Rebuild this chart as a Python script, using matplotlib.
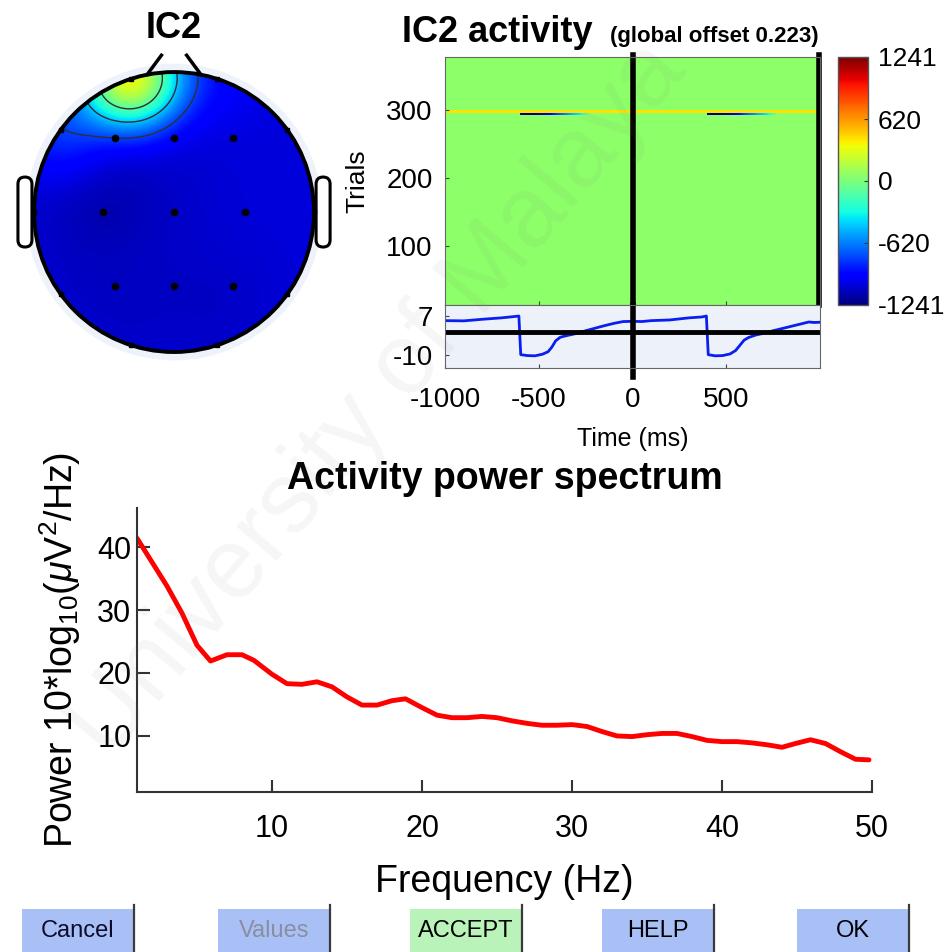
import numpy as np
import matplotlib
matplotlib.use('Agg')
import matplotlib.pyplot as plt
from matplotlib.patches import Circle, FancyBboxPatch, Rectangle

plt.rcParams['font.family'] = ['Liberation Sans', 'DejaVu Sans']
plt.rcParams['mathtext.fontset'] = 'custom'
plt.rcParams['mathtext.rm'] = 'Liberation Sans'
plt.rcParams['mathtext.it'] = 'Liberation Sans:italic'

# ---------------- data ----------------
topo_title = 'IC2'
# channel positions (normalised head units) and component map values
chan_x = [-0.42, 0.0, 0.42, -0.51, 0.0, 0.51, -0.42, 0.0, 0.42]
chan_y = [0.53, 0.53, 0.53, 0.0, 0.0, 0.0, -0.53, -0.53, -0.53]
chan_val = [-0.90, -0.86, -0.84, -0.90, -0.86, -0.84, -0.86, -0.86, -0.86]
rim_angles_deg = [0, 36, 72, 108, 144, 180, 216, 252, 288, 324]
rim_val = [-0.84, -0.84, -0.78, 0.26, -0.66, -0.86, -0.86, -0.86, -0.86, -0.84]
topo_base = -0.84
topo_levels = [-0.62, -0.36, -0.10]

erp_title = 'IC2 activity'
erp_subtitle = '(global offset 0.223)'
trial_range = [13, 378]
time_range = [-1000, 1000]
erp_background = 50
stripe_trials = [296, 297, 298, 299]
stripe_value = 420
dark_trials = [293, 294, 295]
dark_onsets = [-604, 396]
dark_offsets = [0, 70, 140, 220, 330, 380]
dark_values = [-1241, -1241, -1050, -700, -330, 50]
trial_ticks = [100, 200, 300]
time_ticks = [-1000, -500, 0, 500]
cbar_ticks = [-1241, -620, 0, 620, 1241]

trace_t = [-1000, -900, -800, -700, -640, -606, -596, -560, -520, -480, -450, -430,
           -410, -385, -350, -300, -250, -200, -150, -100, -50, 0,
           50, 100, 200, 300, 370, 394, 404, 440, 480, 520, 550, 575, 595, 620,
           660, 700, 750, 800, 850, 900, 940, 970, 1000]
trace_v = [5.0, 4.9, 5.6, 6.2, 6.7, 7.0, -9.8, -10.2, -10.3, -9.6, -8.5, -6.5,
           -3.8, -2.2, -1.5, -0.6, 0.6, 1.7, 2.8, 3.8, 4.6, 4.7,
           4.6, 5.0, 5.3, 6.2, 6.6, 7.0, -9.8, -10.3, -10.2, -9.5, -8.0, -5.5, -3.5, -2.3,
           -1.2, -0.5, 0.6, 1.6, 2.6, 3.6, 4.4, 4.2, 4.3]
trace_ticks = [-10, 7]

freq = [1, 2, 3, 4, 5, 5.9, 7, 8, 8.8, 10, 11, 12, 13, 14, 15, 16, 17, 18, 18.9, 20,
        21, 22, 23, 24, 25, 26, 27, 28, 29, 30, 31, 32, 33, 34, 35, 36, 37, 38, 39,
        40, 41, 42, 43, 44, 44.9, 45.9, 46.9, 47.9, 48.9, 49.8]
power = [41.4, 37.6, 33.8, 29.5, 24.4, 21.9, 22.9, 22.9, 22.0, 19.8, 18.3, 18.2, 18.6,
         17.8, 16.2, 14.9, 14.9, 15.6, 15.9, 14.5, 13.3, 12.9, 12.9, 13.1, 12.9, 12.4,
         12.0, 11.7, 11.7, 11.8, 11.5, 10.7, 10.0, 9.9, 10.2, 10.4, 10.4, 9.9, 9.3,
         9.1, 9.1, 8.9, 8.6, 8.2, 8.8, 9.4, 8.8, 7.5, 6.3, 6.2]
freq_ticks = [10, 20, 30, 40, 50]
power_ticks = [10, 20, 30, 40]

buttons = ['Cancel', 'Values', 'ACCEPT', 'HELP', 'OK']
button_face = ['#a9c0f7', '#a9c0f7', '#b9f3b9', '#a9c0f7', '#a9c0f7']
button_text = ['#0d0d2a', '#8a8e9e', '#000000', '#000000', '#000000']

# ---------------- layout ----------------
W, H = 947, 952
fig = plt.figure(figsize=(W / 100, H / 100), dpi=100)
fig.patch.set_facecolor('white')


def rect(l, t, r, b):
    return [l / W, 1 - b / H, (r - l) / W, (b - t) / H]


# ---- topo map ----
ax = fig.add_axes(rect(0, 40, 350, 380))
ax.set_xlim(-1.243, 1.257)
ax.set_ylim(-1.2, 1.229)
ax.axis('off')
px = list(chan_x) + [np.cos(np.radians(a)) for a in rim_angles_deg]
py = list(chan_y) + [np.sin(np.radians(a)) for a in rim_angles_deg]
pv = list(chan_val) + list(rim_val)
g = np.linspace(-1.02, 1.02, 401)
X, Y = np.meshgrid(g, g)
Z = np.full_like(X, topo_base)
for xi, yi, vi in zip(px, py, pv):
    Z += (vi - topo_base) * np.exp(-((X - xi) ** 2 + (Y - yi) ** 2) / (2 * 0.25 ** 2))
halo = Circle((0, 0), 1.03, facecolor='none', edgecolor='#eef2fa', lw=6, zorder=0)
ax.add_patch(halo)
clip = Circle((0, 0), 1.0, transform=ax.transData)
im0 = ax.imshow(Z, extent=[-1.02, 1.02, -1.02, 1.02], origin='lower', cmap='jet',
                vmin=-1, vmax=1, interpolation='bilinear', zorder=1)
im0.set_clip_path(clip)
cs = ax.contour(X, Y, Z, levels=topo_levels, colors='#303030', linewidths=1.0,
                linestyles='solid', zorder=2)
cs.set_clip_path(clip)
for sx in (-1, 1):
    ear = FancyBboxPatch((sx * 1.065 - 0.05, -0.25), 0.10, 0.5,
                         boxstyle='round,pad=0,rounding_size=0.05',
                         facecolor='white', edgecolor='black', lw=2.2, zorder=0.5)
    ax.add_patch(ear)
ax.plot([-0.19, -0.09], [0.985, 1.12], color='black', lw=2.5, zorder=3)
ax.plot([0.19, 0.09], [0.985, 1.12], color='black', lw=2.5, zorder=3)
ax.add_patch(Circle((0, 0), 1.0, facecolor='none', edgecolor='black', lw=2.8, zorder=3))
ax.plot(chan_x, chan_y, 'o', color='black', ms=4.5, zorder=4)
ax.plot(px[len(chan_x):], py[len(chan_y):], 's', color='black', ms=3.5, zorder=4)
fig.text(174 / W, 1 - 28 / H, topo_title, ha='center', va='center',
         fontsize=26, fontweight='bold')

# ---- ERP image ----
trials = np.arange(trial_range[0], trial_range[1])
times = np.linspace(time_range[0], time_range[1], 401)
img = np.full((len(trials), len(times)), float(erp_background))
for tr in stripe_trials:
    img[tr - trial_range[0], :] = stripe_value
for tr in dark_trials:
    row = img[tr - trial_range[0]]
    for on in dark_onsets:
        rel = times - on
        m = (rel >= 0) & (rel <= dark_offsets[-1])
        row[m] = np.interp(rel[m], dark_offsets, dark_values)
axi = fig.add_axes(rect(445, 57, 820, 305))
im = axi.imshow(img, extent=[time_range[0], time_range[1], trial_range[0], trial_range[1]],
                origin='lower', aspect='auto', cmap='jet', vmin=-1241, vmax=1241,
                interpolation='nearest')
axi.set_xlim(time_range)
axi.set_ylim(trial_range)
axi.set_yticks(trial_ticks)
axi.set_yticklabels([str(t) for t in trial_ticks])
axi.set_xticks([-500, 500])
axi.set_xticklabels([])
axi.tick_params(direction='in', length=3, labelsize=20, pad=9, color='#444')
for s in axi.spines.values():
    s.set_color('#666')
    s.set_linewidth(0.8)
axi.axvline(0, ymin=0, ymax=1.01, color='black', lw=4, clip_on=False)
axi.axvline(time_range[1] - 4, ymin=0, ymax=1.01, color='black', lw=4, clip_on=False)
axi.set_ylabel('Trials', fontsize=19, labelpad=12)

fig.text(402 / W, 1 - 42 / H, erp_title, ha='left', va='baseline',
         fontsize=26, fontweight='bold')
fig.text(610 / W, 1 - 42 / H, erp_subtitle, ha='left', va='baseline',
         fontsize=16, fontweight='bold')

# ---- ERP trace ----
axe = fig.add_axes(rect(445, 305, 820, 368))
axe.set_facecolor('#edf1fa')
axe.plot(trace_t, trace_v, color='#0a1ef0', lw=2)
axe.axhline(0, color='black', lw=3.5)
axe.axvline(0, ymin=-0.14, ymax=1, color='black', lw=4, clip_on=False)
axe.set_xlim(time_range)
axe.set_ylim(-15.6, 11.8)
axe.set_yticks(trace_ticks)
axe.set_yticklabels([str(t) for t in trace_ticks])
axe.set_xticks(time_ticks)
axe.set_xticklabels([str(t) for t in time_ticks])
axe.tick_params(direction='in', length=3, labelsize=20, pad=9, color='#444')
axe.tick_params(axis='x', pad=14)
for s in axe.spines.values():
    s.set_color('#666')
    s.set_linewidth(0.8)
axe.set_xlabel('Time (ms)', fontsize=18, labelpad=10)

# ---- colorbar ----
cax = fig.add_axes(rect(838, 57, 868, 305))
cb = fig.colorbar(im, cax=cax)
cb.set_ticks(cbar_ticks)
cb.set_ticklabels([str(t) for t in cbar_ticks])
cax.tick_params(direction='in', length=3, labelsize=19, pad=7, color='#333')
cb.outline.set_edgecolor('#555')
cb.outline.set_linewidth(1)

# ---- power spectrum ----
axp = fig.add_axes(rect(137, 508, 872, 792))
axp.plot(freq, power, color='#ff0000', lw=3.5, solid_capstyle='round')
axp.set_xlim(1, 50)
axp.set_ylim(1.1, 46.2)
axp.set_xticks(freq_ticks)
axp.set_yticks(power_ticks)
axp.spines['top'].set_visible(False)
axp.spines['right'].set_visible(False)
for s in ('left', 'bottom'):
    axp.spines[s].set_color('#333')
    axp.spines[s].set_linewidth(1.5)
axp.tick_params(direction='in', length=9, width=1.5, labelsize=22, color='#333')
axp.tick_params(axis='x', pad=16)
axp.tick_params(axis='y', pad=4)
axp.set_title('Activity power spectrum', fontsize=27, fontweight='bold', pad=14)
axp.set_xlabel('Frequency (Hz)', fontsize=27, labelpad=14)
axp.set_ylabel(r'Power 10*log$_{10}$($\mu$V$^2$/Hz)', fontsize=27, labelpad=10)

# ---- buttons ----
axb = fig.add_axes([0, 0, 1, 1], zorder=-5)
axb.set_xlim(0, W)
axb.set_ylim(H, 0)
axb.axis('off')
button_left = [22, 218, 410, 602, 797]
for name, x0, fc, tc in zip(buttons, button_left, button_face, button_text):
    axb.add_patch(Rectangle((x0, 909), 112, 45, facecolor=fc, edgecolor='none'))
    axb.plot([x0 + 112, x0 + 112], [905, 952], color='#3a3a3a', lw=1.6)
    axb.text(x0 + 56, 931, name, ha='center', va='center', fontsize=17, color=tc)

# ---- watermark ----
fig.text(0.40, 0.58, 'University of Malaya', rotation=50, fontsize=72, color='#808080',
         alpha=0.07, ha='center', va='center', rotation_mode='anchor')

fig.savefig('out.png', dpi=100)
